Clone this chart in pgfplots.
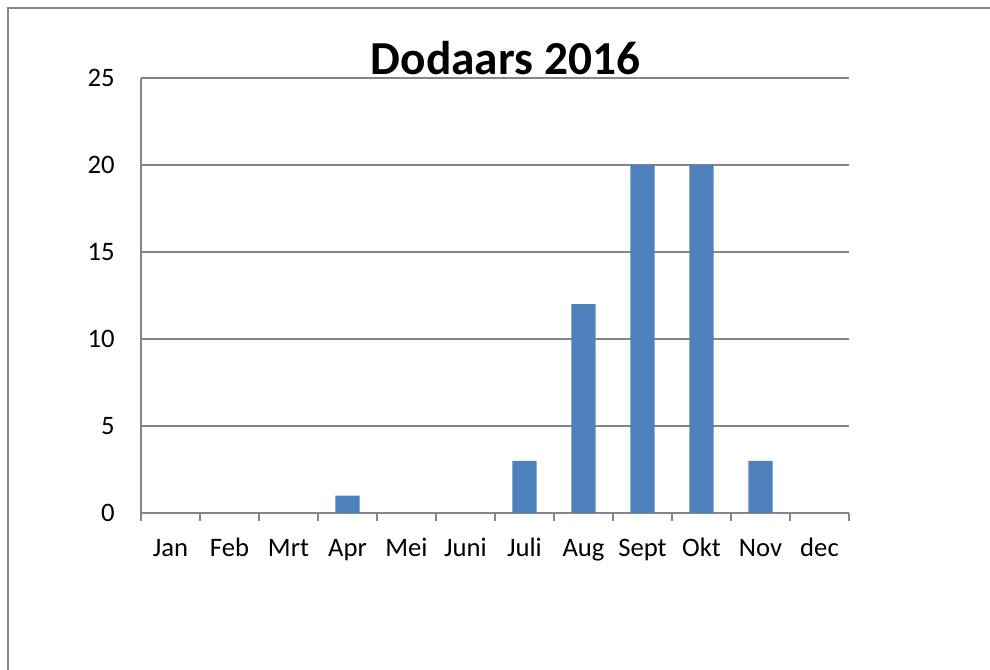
\documentclass[border=0pt]{standalone}
\usepackage{fontspec}
\setmainfont{Carlito}
\usepackage{pgfplots}
\pgfplotsset{compat=1.18}
\definecolor{barblue}{HTML}{4F81BD}
\definecolor{gridgray}{HTML}{868686}
\begin{document}
\begin{tikzpicture}
\useasboundingbox (0pt,0pt) rectangle (742.5pt,502.5pt);
\draw[gridgray, line width=1.5pt] (6pt,-15pt) -- (6pt,496.5pt) -- (760pt,496.5pt);
\begin{axis}[
  at={(105.75pt,117.75pt)}, anchor=south west,
  scale only axis, width=531pt, height=326.25pt,
  xmin=-0.5, xmax=11.5, ymin=0, ymax=25,
  axis x line*=bottom, axis y line*=left,
  axis line style={gridgray, line width=1.1pt, -},
  xtick={0,...,11},
  xticklabels={Jan,Feb,Mrt,Apr,Mei,Juni,Juli,Aug,Sept,Okt,Nov,dec},
  minor xtick={-0.5,0.5,...,11.5},
  major tick length=0pt, minor tick length=6pt,
  tick align=outside,
  minor tick style={gridgray, line width=1.1pt},
  ytick={0,5,...,25},
  ymajorgrids, major grid style={gridgray, line width=1.1pt},
  /pgf/number format/assume math mode=true,
  tick label style={font=\fontsize{20}{24}\selectfont, text=black},
  xticklabel style={anchor=base, inner sep=0pt, yshift=-32.5pt},
  yticklabel style={anchor=east, inner sep=0pt, xshift=-19.5pt},
  ybar, bar width=0.41, bar shift=0pt,
]
\addplot[fill=barblue, draw=none] coordinates {
(0,0) (1,0) (2,0) (3,1) (4,0) (5,0) (6,3) (7,12) (8,20) (9,20) (10,3) (11,0)};
\end{axis}
\node[anchor=base, inner sep=0pt, font=\fontsize{35.5}{40}\selectfont\bfseries] at (379.1pt,446.25pt) {Dodaars 2016};
\end{tikzpicture}
\end{document}
